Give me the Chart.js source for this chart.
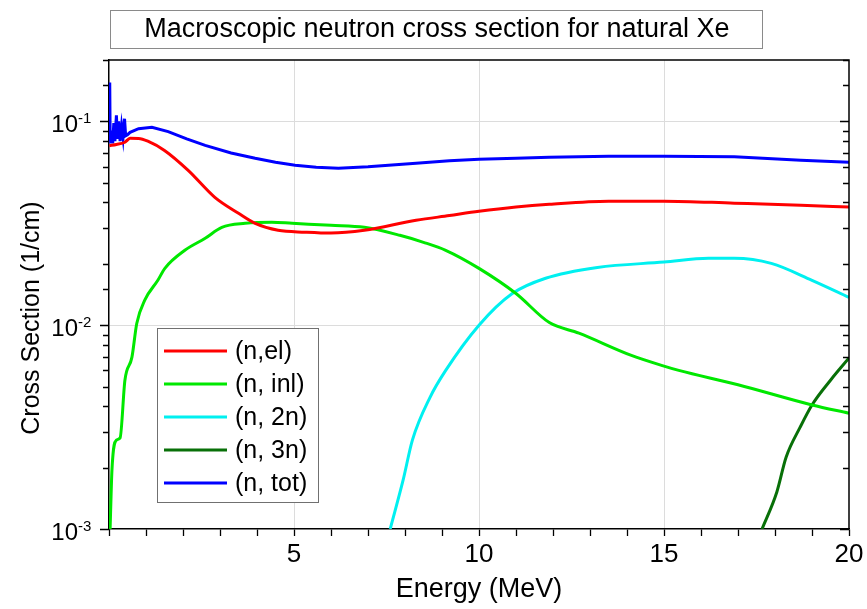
<!DOCTYPE html>
<html>
<head>
<meta charset="utf-8">
<script src="https://cdn.jsdelivr.net/npm/chart.js@4/dist/chart.umd.min.js"></script>
<style>
  html, body { margin: 0; padding: 0; background: #fff; }
  #wrap { width: 867px; height: 609px; }
</style>
</head>
<body>
<div id="wrap"><canvas id="xs" width="867" height="609"></canvas></div>
<script>
// energies (MeV) and macroscopic cross sections (1/cm)
const elE   = [0.01, 0.2, 0.43, 0.57, 0.8, 1.05, 1.5, 2.14, 2.86, 3.5, 3.95, 4.57, 5.3, 6.0, 6.9, 8.3, 9.2, 10, 11, 11.9, 13.5, 15, 16.9, 18.7, 20];
const elXS  = [0.076, 0.077, 0.079, 0.0826, 0.0825, 0.080, 0.072, 0.0575, 0.0424, 0.0354, 0.0316, 0.0292, 0.0286, 0.0283, 0.0292, 0.0327, 0.0345, 0.0362, 0.038, 0.0392, 0.0406, 0.0406, 0.0397, 0.0388, 0.038];

const inlE  = [0.03, 0.08, 0.2, 0.3, 0.43, 0.62, 0.75, 0.97, 1.32, 1.51, 2.05, 2.6, 3.05, 3.68, 4.4, 4.95, 6.0, 6.9, 7.86, 8.5, 9.1, 10.0, 11.0, 11.9, 12.7, 14.1, 15.0, 15.4, 17.0, 19.0, 20];
const inlXS = [0.001, 0.00195, 0.00273, 0.0028, 0.00537, 0.00697, 0.0102, 0.0133, 0.0166, 0.019, 0.0233, 0.0267, 0.0302, 0.0316, 0.032, 0.0316, 0.0309, 0.0302, 0.0276, 0.0255, 0.0233, 0.019, 0.0143, 0.0103, 0.00914, 0.00713, 0.0063, 0.006, 0.0051, 0.00406, 0.0037];

const n2nE  = [7.6, 7.95, 8.2, 8.68, 9.1, 10.0, 10.9, 11.8, 13.2, 15.0, 16.2, 16.9, 17.9, 19.0, 20];
const n2nXS = [0.001, 0.00174, 0.00273, 0.00444, 0.006, 0.01, 0.0143, 0.017, 0.0192, 0.0204, 0.0213, 0.0213, 0.0201, 0.0166, 0.0137];

const n3nE  = [17.65, 18.05, 18.3, 18.68, 19.0, 19.5, 20];
const n3nXS = [0.001, 0.00152, 0.00225, 0.00316, 0.00406, 0.00537, 0.0069];

const totE  = [0.01, 0.02, 0.03, 0.05, 0.08, 0.1, 0.13, 0.16, 0.2, 0.23, 0.26, 0.3, 0.34, 0.38, 0.42, 0.45, 0.5, 0.57, 0.8, 1.16, 1.6, 2.1, 2.6, 3.3, 3.95, 4.5, 5.03, 5.6, 6.2, 7.0, 8.3, 9.2, 10, 11, 11.9, 13.5, 15, 16.9, 18.7, 20];
const totXS = [0.08, 0.155, 0.09, 0.078, 0.09, 0.078, 0.098, 0.08, 0.107, 0.082, 0.1, 0.08, 0.095, 0.083, 0.103, 0.085, 0.086, 0.0883, 0.092, 0.0935, 0.089, 0.082, 0.0762, 0.07, 0.0659, 0.063, 0.0609, 0.0595, 0.0588, 0.0598, 0.0623, 0.064, 0.0652, 0.066, 0.0667, 0.0674, 0.0674, 0.067, 0.0644, 0.063];

const seriesNames = ['(n,el)', '(n, inl)', '(n, 2n)', '(n, 3n)', '(n, tot)'];
const seriesColors = ['#ff0000', '#00e800', '#00f0f0', '#087008', '#0000ff'];
const majorX = [5, 10, 15];
const decades = [0.1, 0.01, 0.001];
const decadeExp = ['-1', '-2', '-3'];

const FONT = '"Liberation Sans", Arial, Helvetica, sans-serif';
Chart.defaults.font.family = FONT;

const pts = (xs, ys) => xs.map((x, i) => ({ x: x, y: ys[i] }));
const isDecade = v => Math.abs(Math.log10(v) - Math.round(Math.log10(v))) < 1e-6;

const series = [[elE, elXS], [inlE, inlXS], [n2nE, n2nXS], [n3nE, n3nXS], [totE, totXS]];

const frame = {
  id: 'frame',
  afterDraw(chart) {
    const ctx = chart.ctx;
    const a = chart.chartArea;
    const ys = chart.scales.y;
    ctx.save();
    // top / right border
    ctx.strokeStyle = '#000';
    ctx.lineWidth = 1.5;
    ctx.beginPath();
    ctx.moveTo(a.left, a.top);
    ctx.lineTo(a.right, a.top);
    ctx.lineTo(a.right, a.bottom);
    ctx.stroke();
    // y ticks: outward on the left, inward on the right
    ctx.lineWidth = 1.3;
    ys.ticks.forEach(t => {
      const y = Math.round(ys.getPixelForValue(t.value)) + 0.5;
      const len = isDecade(t.value) ? 9 : 6;
      ctx.beginPath();
      ctx.moveTo(a.left - len, y);
      ctx.lineTo(a.left, y);
      ctx.moveTo(a.right - len, y);
      ctx.lineTo(a.right, y);
      ctx.stroke();
    });
    // y tick labels 10^n
    ctx.fillStyle = '#000';
    ctx.textBaseline = 'alphabetic';
    decades.forEach((v, i) => {
      const y = ys.getPixelForValue(v);
      ctx.font = '24px ' + FONT;
      ctx.textAlign = 'right';
      ctx.fillText('10', 78, y + 11);
      ctx.font = '15px ' + FONT;
      ctx.textAlign = 'left';
      ctx.fillText(decadeExp[i], 78, y + 2);
    });
    // axis titles
    ctx.textAlign = 'center';
    ctx.font = '27px ' + FONT;
    ctx.fillText('Energy (MeV)', (a.left + a.right) / 2, 597);
    ctx.save();
    ctx.translate(39, 318);
    ctx.rotate(-Math.PI / 2);
    ctx.font = '25px ' + FONT;
    ctx.fillText('Cross Section (1/cm)', 0, 0);
    ctx.restore();
    // title box
    ctx.strokeStyle = '#8a8a8a';
    ctx.lineWidth = 1;
    ctx.strokeRect(110.5, 10.5, 652, 38);
    ctx.font = '27px ' + FONT;
    ctx.fillText('Macroscopic neutron cross section for natural Xe', 437, 37);
    // legend
    ctx.fillStyle = '#fff';
    ctx.fillRect(157, 328, 161, 174);
    ctx.strokeStyle = '#707070';
    ctx.strokeRect(157.5, 328.5, 161, 174);
    ctx.textAlign = 'left';
    ctx.textBaseline = 'middle';
    ctx.font = '25px ' + FONT;
    chart.data.datasets.forEach((ds, i) => {
      const y = 351 + i * 33;
      ctx.strokeStyle = ds.borderColor;
      ctx.lineWidth = 3;
      ctx.beginPath();
      ctx.moveTo(164, y);
      ctx.lineTo(227, y);
      ctx.stroke();
      ctx.fillStyle = '#000';
      ctx.fillText(ds.label, 235, y + 1);
    });
    ctx.restore();
  }
};

new Chart(document.getElementById('xs'), {
  type: 'line',
  data: {
    datasets: series.map((s, i) => ({
      label: seriesNames[i],
      data: pts(s[0], s[1]),
      borderColor: seriesColors[i],
      backgroundColor: seriesColors[i],
      borderWidth: 3,
      pointRadius: 0,
      fill: false,
      cubicInterpolationMode: i === 4 ? 'default' : 'monotone',
      tension: i === 4 ? 0 : 0.4
    }))
  },
  options: {
    responsive: false,
    animation: false,
    devicePixelRatio: 1,
    layout: { padding: { top: 60, right: 18, left: 0, bottom: 0 } },
    plugins: { legend: { display: false }, title: { display: false }, tooltip: { enabled: false } },
    scales: {
      x: {
        type: 'linear',
        min: 0,
        max: 20,
        afterFit: s => { s.height = 80; },
        ticks: {
          stepSize: 1,
          autoSkip: false,
          maxRotation: 0,
          padding: 3,
          color: '#000',
          font: { size: 26 },
          callback: v => (v % 5 === 0 && v > 0) ? String(v) : ''
        },
        grid: {
          color: c => (c.tick && majorX.includes(c.tick.value)) ? '#dcdcdc' : 'rgba(0,0,0,0)',
          tickColor: '#000',
          tickLength: 7,
          tickWidth: 1.3
        },
        border: { color: '#000', width: 1.5 }
      },
      y: {
        type: 'logarithmic',
        min: 0.001,
        max: 0.2,
        afterFit: s => { s.width = 109; },
        ticks: { autoSkip: false, callback: () => '' },
        grid: {
          color: c => (c.tick && isDecade(c.tick.value) && c.tick.value > 0.002) ? '#dcdcdc' : 'rgba(0,0,0,0)',
          drawTicks: false
        },
        border: { color: '#000', width: 1.5 }
      }
    }
  },
  plugins: [frame]
});
</script>
</body>
</html>
